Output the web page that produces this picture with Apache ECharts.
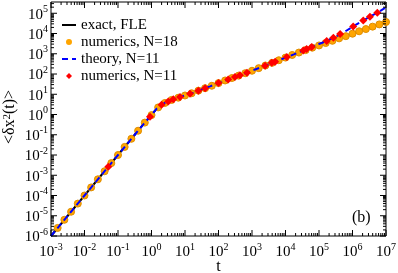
<!DOCTYPE html>
<html><head><meta charset="utf-8">
<script src="https://cdn.jsdelivr.net/npm/echarts@6/dist/echarts.min.js"></script>
<style>html,body{margin:0;padding:0;background:#fff}#c{width:398px;height:273px}</style>
</head><body><div id="c"></div>
<script>
// exact, FLE (black solid)
const fleT = [0.001, 0.01, 0.1, 0.316, 0.562, 1, 1.41, 2.0, 2.82, 3.98, 6.31, 10, 17.8, 31.6, 56.2, 100, 316, 1000, 3162, 1e4, 31623, 1e5, 316228, 1e6, 3.16e6, 1e7];
const fleY = [1e-6, 1e-4, 0.01, 0.1, 0.316, 0.95, 1.91, 3.02, 4.17, 5.25, 6.76, 8.71, 12.0, 17.4, 24.5, 35.5, 72.4, 145, 302, 646, 1318, 2570, 5012, 9772, 19055, 37154];
// numerics, N=18 (orange circles)
const n18T = [1.58e-3, 2.51e-3, 3.98e-3, 6.31e-3, 0.01, 0.0158, 0.0251, 0.0398, 0.0631, 0.1, 0.158, 0.251, 0.398, 0.631, 1, 1.58, 2.51, 3.98, 6.31, 10, 15.8, 25.1, 39.8, 63.1, 100, 158, 251, 398, 631, 1000, 1585, 2512, 3981, 6310, 1e4, 15849, 25119, 39811, 63096, 1e5, 158489, 251189, 398107, 630957, 1e6, 1.58e6, 2.51e6, 3.98e6, 6.31e6, 1e7];
const n18Y = [2.51e-6, 6.31e-6, 1.58e-5, 3.98e-5, 1e-4, 2.51e-4, 6.31e-4, 1.58e-3, 3.98e-3, 0.01, 0.0251, 0.0631, 0.158, 0.398, 0.933, 2.24, 3.72, 5.25, 6.76, 8.71, 11.2, 15.1, 20.0, 26.3, 35.5, 47.9, 63.1, 83.2, 110, 145, 195, 263, 355, 479, 646, 871, 1148, 1514, 1995, 2570, 3388, 4365, 5754, 7413, 9772, 12882, 16596, 21878, 28184, 37154];
// theory, N=11 (blue dashed)
const thT = [0.001, 0.01, 0.1, 0.316, 0.562, 1, 1.41, 2.0, 2.82, 3.98, 6.31, 10, 17.8, 31.6, 56.2, 100, 316, 1000, 3162, 1e4, 17783, 31623, 56234, 1e5, 177828, 316228, 562341, 1e6, 1.78e6, 3.16e6, 5.62e6, 1e7];
const thY = [1e-6, 1e-4, 0.01, 0.1, 0.316, 0.95, 1.91, 3.02, 4.17, 5.25, 6.76, 8.71, 12.0, 17.4, 24.5, 35.5, 72.4, 145, 302, 646, 933, 1380, 2042, 3020, 4467, 6918, 11749, 21380, 37154, 64565, 109648, 194984];
// numerics, N=11 (red diamonds)
const n11T = [0.0513, 0.902, 2.0, 3.16, 4.47, 7.08, 14.1, 25.1, 39.8, 100, 195, 309, 437, 708, 2455, 3890, 4898, 10965, 33884, 42658, 60256, 169824, 269153, 426580, 1.05e6, 2.09e6, 3.31e6, 5.5e6];
const n11Y = [2.63e-3, 0.78, 3.02, 4.37, 5.62, 7.24, 10.7, 15.1, 20.0, 35.5, 53.7, 70.8, 87.1, 117, 257, 355, 407, 692, 1445, 1698, 2138, 4266, 6166, 9550, 22387, 43652, 67608, 107152];
// axes (decade exponents shown as tick labels 10^n)
const xMin = 1e-3, xMax = 1e7, yMin = 1e-6, yMax = 3.6e5;
const xDecades = [-3, -2, -1, 0, 1, 2, 3, 4, 5, 6, 7];
const yDecades = [-6, -5, -4, -3, -2, -1, 0, 1, 2, 3, 4, 5];
const minorMults = [2, 3, 4, 5, 6, 7, 8, 9];

const L = Math.log10;
const zipLog = (a, b) => a.map((v, i) => [L(v), L(b[i])]);
const SERIF = '"Liberation Serif","DejaVu Serif",serif';
const X0 = L(xMin), X1 = L(xMax), Y0 = L(yMin), Y1 = L(yMax);

const tickB = [], tickT = [], tickL = [], tickR = [];
const MAJ = 6, MIN = 3;
xDecades.forEach(e => {
  const b = Math.pow(10, e);
  [[b, MAJ]].concat(minorMults.map(m => [m * b, MIN])).forEach(([v, len]) => {
    if (v > xMax * 1.0001) return;
    tickB.push({ value: [L(v), Y0], symbolSize: [1, len], symbolOffset: [0, -len / 2] });
    tickT.push({ value: [L(v), Y1], symbolSize: [1, len], symbolOffset: [0, len / 2] });
  });
});
yDecades.forEach(e => {
  const b = Math.pow(10, e);
  [[b, MAJ]].concat(minorMults.map(m => [m * b, MIN])).forEach(([v, len]) => {
    if (v > yMax) return;
    tickL.push({ value: [X0, L(v)], symbolSize: [len, 1], symbolOffset: [len / 2, 0] });
    tickR.push({ value: [X1, L(v)], symbolSize: [len, 1], symbolOffset: [-len / 2, 0] });
  });
});
const tickSeries = [tickB, tickT, tickL, tickR].map(d => ({
  type: 'scatter', data: d, symbol: 'rect', clip: false, silent: true, z: 10,
  itemStyle: { color: '#000', opacity: 1 }
}));

function supLabel(v) {
  const r = Math.round(v);
  if (Math.abs(v - r) > 1e-6) return '';
  return '{b|10}{s|' + r + '}';
}
const richSup = {
  b: { fontFamily: SERIF, fontSize: 15, color: '#000', lineHeight: 18, verticalAlign: 'bottom' },
  s: { fontFamily: SERIF, fontSize: 10, color: '#000', lineHeight: 10, verticalAlign: 'top' }
};

const chart = echarts.init(document.getElementById('c'), null, { renderer: 'canvas' });
chart.setOption({
  animation: false,
  backgroundColor: '#fff',
  grid: { left: 51, right: 12, top: 2, bottom: 37, outerBoundsMode: 'none', containLabel: false,
    show: true, borderColor: '#000', borderWidth: 1, backgroundColor: 'transparent' },
  xAxis: {
    type: 'value', min: X0, max: X1, interval: 1,
    axisLine: { show: false }, axisTick: { show: false }, splitLine: { show: false },
    axisLabel: { formatter: supLabel, rich: richSup, margin: 6, showMinLabel: true, showMaxLabel: true, hideOverlap: false },
    name: 't', nameLocation: 'middle', nameGap: 23, nameMoveOverlap: false,
    nameTextStyle: { fontFamily: SERIF, fontSize: 16, color: '#000' }
  },
  yAxis: {
    type: 'value', min: Y0, max: Y1, interval: 1,
    axisLine: { show: false }, axisTick: { show: false }, splitLine: { show: false },
    axisLabel: { formatter: supLabel, rich: richSup, margin: 3, showMinLabel: true, showMaxLabel: true, hideOverlap: false }
  },
  legend: {
    orient: 'vertical', left: 56, top: 12, itemWidth: 14, itemHeight: 6, itemGap: 1,
    symbolKeepAspect: true,
    itemStyle: { borderWidth: 0 },
    textStyle: { fontFamily: SERIF, fontSize: 15, color: '#000', lineHeight: 16 },
    data: [
      { name: 'exact, FLE', itemStyle: { opacity: 0 } },
      { name: 'numerics, N=18', icon: 'path://M5,0A5,5,0,1,1,4.99,0Z' },
      { name: 'theory, N=11', itemStyle: { opacity: 0 } },
      { name: 'numerics, N=11', icon: 'path://M5,0L10,5L5,10L0,5Z' }
    ]
  },
  graphic: [
    { type: 'text', left: 352, top: 210, style: { text: '(b)', font: '16px ' + SERIF, fill: '#000' } },
    { type: 'text', x: 10, y: 117, rotation: Math.PI / 2,
      style: { text: '<δx{s|2}(t)>', fontFamily: SERIF, fontSize: 16, fill: '#000', align: 'center', verticalAlign: 'middle',
        rich: { s: { fontFamily: SERIF, fontSize: 11, fill: '#000', verticalAlign: 'top', lineHeight: 10 } } } }
  ],
  series: [
    { name: 'exact, FLE', type: 'line', data: zipLog(fleT, fleY), symbol: 'none', z: 2,
      lineStyle: { color: '#000', width: 2 }, itemStyle: { color: '#000' } },
    { name: 'numerics, N=18', type: 'scatter', data: zipLog(n18T, n18Y), symbol: 'circle', symbolSize: 7, z: 3,
      itemStyle: { color: '#ffa500', borderColor: '#e08e00', borderWidth: 1, opacity: 1 } },
    { name: 'theory, N=11', type: 'line', data: zipLog(thT, thY), symbol: 'none', z: 4,
      lineStyle: { color: '#0000ff', width: 2, type: [6, 4] }, itemStyle: { color: '#0000ff' } },
    { name: 'numerics, N=11', type: 'scatter', data: zipLog(n11T, n11Y), symbol: 'diamond', symbolSize: 8, z: 5,
      itemStyle: { color: '#ff0000', opacity: 1 } }
  ].concat(tickSeries)
});
</script>
</body></html>
